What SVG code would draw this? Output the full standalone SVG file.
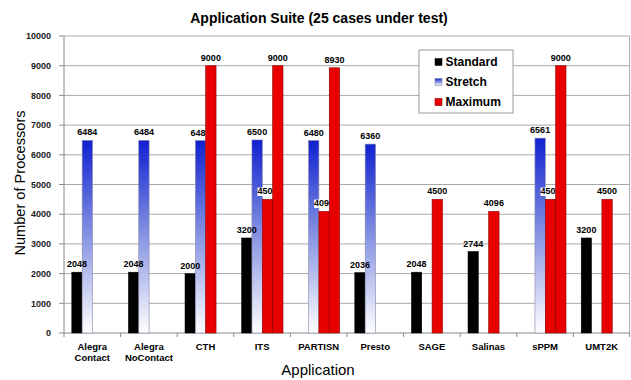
<svg xmlns="http://www.w3.org/2000/svg" width="631" height="380" viewBox="0 0 631 380">
<defs>
<linearGradient id="blueGrad" x1="0" y1="0" x2="0" y2="1">
<stop offset="0" stop-color="#1020d0"/>
<stop offset="0.45" stop-color="#7c8ae0"/>
<stop offset="1" stop-color="#ffffff"/>
</linearGradient>
<style>
text{font-family:"Liberation Sans",Arial,sans-serif;fill:#000}
.grid{stroke:#a8a8a8;stroke-width:1;fill:none}
.axis{stroke:#8a8a8a;stroke-width:1;fill:none}
.std{fill:#000;stroke:#000;stroke-width:0.5}
.str{fill:url(#blueGrad);stroke:#8888a8;stroke-width:0.6}
.max{fill:#e80000;stroke:#8a0000;stroke-width:0.6}
.lbl{font-size:9px;font-weight:bold;text-anchor:middle}
.ytk{font-size:9px;font-weight:bold;text-anchor:end;fill:#222}
.cat{font-size:9.5px;font-weight:bold;text-anchor:middle}
.leg{font-size:12px;font-weight:bold}
.wbg{fill:#fff}
</style>
</defs>
<rect x="0" y="0" width="631" height="380" fill="#fff"/>
<text x="319" y="23" font-size="14px" font-weight="bold" text-anchor="middle">Application Suite (25 cases under test)</text>
<g id="axes">
<path class="grid" d="M64 303.3H629.6M64 273.6H629.6M64 243.9H629.6M64 214.2H629.6M64 184.5H629.6M64 154.8H629.6M64 125.1H629.6M64 95.4H629.6M64 65.7H629.6M64 36H629.6V333"/>
<path class="axis" d="M64 36V333H629.6"/>
<path class="axis" d="M59 333H64M59 303.3H64M59 273.6H64M59 243.9H64M59 214.2H64M59 184.5H64M59 154.8H64M59 125.1H64M59 95.4H64M59 65.7H64M59 36H64"/>
<path class="axis" d="M64 333V337M120.6 333V337M177.2 333V337M233.8 333V337M290.4 333V337M347 333V337M403.6 333V337M460.2 333V337M516.8 333V337M573.4 333V337M629.6 333V337"/>
<text class="ytk" x="51" y="336.2">0</text>
<text class="ytk" x="51" y="306.5">1000</text>
<text class="ytk" x="51" y="276.8">2000</text>
<text class="ytk" x="51" y="247.1">3000</text>
<text class="ytk" x="51" y="217.4">4000</text>
<text class="ytk" x="51" y="187.7">5000</text>
<text class="ytk" x="51" y="158">6000</text>
<text class="ytk" x="51" y="128.3">7000</text>
<text class="ytk" x="51" y="98.6">8000</text>
<text class="ytk" x="51" y="68.9">9000</text>
<text class="ytk" x="51" y="39.2">10000</text>
<text x="25" y="183" font-size="14.6px" text-anchor="middle" transform="rotate(-90 25 183)">Number of Processors</text>
<text x="318" y="375" font-size="15px" text-anchor="middle">Application</text>
<text class="cat" x="92.3" y="350">Alegra</text>
<text class="cat" x="92.3" y="361">Contact</text>
<text class="cat" x="148.9" y="350">Alegra</text>
<text class="cat" x="148.9" y="361">NoContact</text>
<text class="cat" x="205.5" y="350">CTH</text>
<text class="cat" x="262.1" y="350">ITS</text>
<text class="cat" x="318.7" y="350">PARTISN</text>
<text class="cat" x="375.3" y="350">Presto</text>
<text class="cat" x="431.9" y="350">SAGE</text>
<text class="cat" x="488.5" y="350">Salinas</text>
<text class="cat" x="545.1" y="350">sPPM</text>
<text class="cat" x="601.7" y="350">UMT2K</text>
</g>
<g id="connectors"></g>
<g id="series-standard">
<rect class="std" x="71.8" y="272.17" width="10.35" height="60.83"/>
<rect class="std" x="128.4" y="272.17" width="10.35" height="60.83"/>
<rect class="std" x="185" y="273.6" width="10.35" height="59.4"/>
<rect class="std" x="241.6" y="237.96" width="10.35" height="95.04"/>
<rect class="std" x="354.8" y="272.53" width="10.35" height="60.47"/>
<rect class="std" x="411.4" y="272.17" width="10.35" height="60.83"/>
<rect class="std" x="468" y="251.5" width="10.35" height="81.5"/>
<rect class="std" x="581.2" y="237.96" width="10.35" height="95.04"/>
</g>
<g id="series-stretch">
<rect class="str" x="82.15" y="140.43" width="10.35" height="192.57"/>
<rect class="str" x="138.75" y="140.43" width="10.35" height="192.57"/>
<rect class="str" x="195.35" y="140.54" width="10.35" height="192.46"/>
<rect class="str" x="251.95" y="139.95" width="10.35" height="193.05"/>
<rect class="str" x="308.55" y="140.54" width="10.35" height="192.46"/>
<rect class="str" x="365.15" y="144.11" width="10.35" height="188.89"/>
<rect class="str" x="534.95" y="138.14" width="10.35" height="194.86"/>
</g>
<g id="labels-standard">
<text class="lbl" x="76.98" y="267.2">2048</text>
<text class="lbl" x="133.58" y="267.2">2048</text>
<text class="lbl" x="190.18" y="268.6">2000</text>
<text class="lbl" x="246.78" y="233">3200</text>
<text class="lbl" x="359.98" y="267.5">2036</text>
<text class="lbl" x="416.58" y="267.2">2048</text>
<text class="lbl" x="473.18" y="246.5">2744</text>
<text class="lbl" x="586.38" y="233">3200</text>
</g>
<g id="labels-stretch">
<text class="lbl" x="87.33" y="135.4">6484</text>
<text class="lbl" x="143.93" y="135.4">6484</text>
<text class="lbl" x="200.53" y="135.5">6480</text>
<text class="lbl" x="257.13" y="135">6500</text>
<text class="lbl" x="313.73" y="135.5">6480</text>
<text class="lbl" x="370.33" y="139.1">6360</text>
<text class="lbl" x="540.13" y="133.1">6561</text>
</g>
<g id="series-maximum">
<rect class="max" x="205.7" y="65.7" width="10.35" height="267.3"/>
<rect class="max" x="262.3" y="199.35" width="10.35" height="133.65"/>
<rect class="max" x="318.9" y="211.35" width="10.35" height="121.65"/>
<rect class="max" x="432.1" y="199.35" width="10.35" height="133.65"/>
<rect class="max" x="488.7" y="211.35" width="10.35" height="121.65"/>
<rect class="max" x="545.3" y="199.35" width="10.35" height="133.65"/>
<rect class="max" x="601.9" y="199.35" width="10.35" height="133.65"/>
<rect class="wbg" x="257.5" y="187.6" width="20" height="8.4"/>
<rect class="wbg" x="314.1" y="199.6" width="20" height="8.4"/>
<rect class="wbg" x="540.5" y="187.6" width="20" height="8.4"/>
<text class="lbl" x="210.88" y="60.7">9000</text>
<text class="lbl" x="267.48" y="194.4">4500</text>
<text class="lbl" x="324.08" y="206.4">4096</text>
<text class="lbl" x="437.28" y="194.4">4500</text>
<text class="lbl" x="493.88" y="206.4">4096</text>
<text class="lbl" x="550.48" y="194.4">4500</text>
<text class="lbl" x="607.08" y="194.4">4500</text>
</g>
<g id="series-maximum-2">
<rect class="max" x="272.65" y="65.7" width="10.35" height="267.3"/>
<rect class="max" x="329.25" y="67.78" width="10.35" height="265.22"/>
<rect class="max" x="555.65" y="65.7" width="10.35" height="267.3"/>
<text class="lbl" x="277.83" y="60.7">9000</text>
<text class="lbl" x="334.43" y="62.8">8930</text>
<text class="lbl" x="560.83" y="60.7">9000</text>
</g>
<g id="legend">
<rect x="419" y="50" width="94" height="63" fill="#fff" stroke="#9a9a9a" stroke-width="1"/>
<rect class="std" x="435" y="58.5" width="7" height="7"/>
<rect class="str" x="435" y="78.5" width="7" height="7"/>
<rect class="max" x="435" y="98.5" width="7" height="7"/>
<text class="leg" x="445.5" y="66">Standard</text>
<text class="leg" x="445.5" y="86">Stretch</text>
<text class="leg" x="445.5" y="106">Maximum</text>
</g>
</svg>
